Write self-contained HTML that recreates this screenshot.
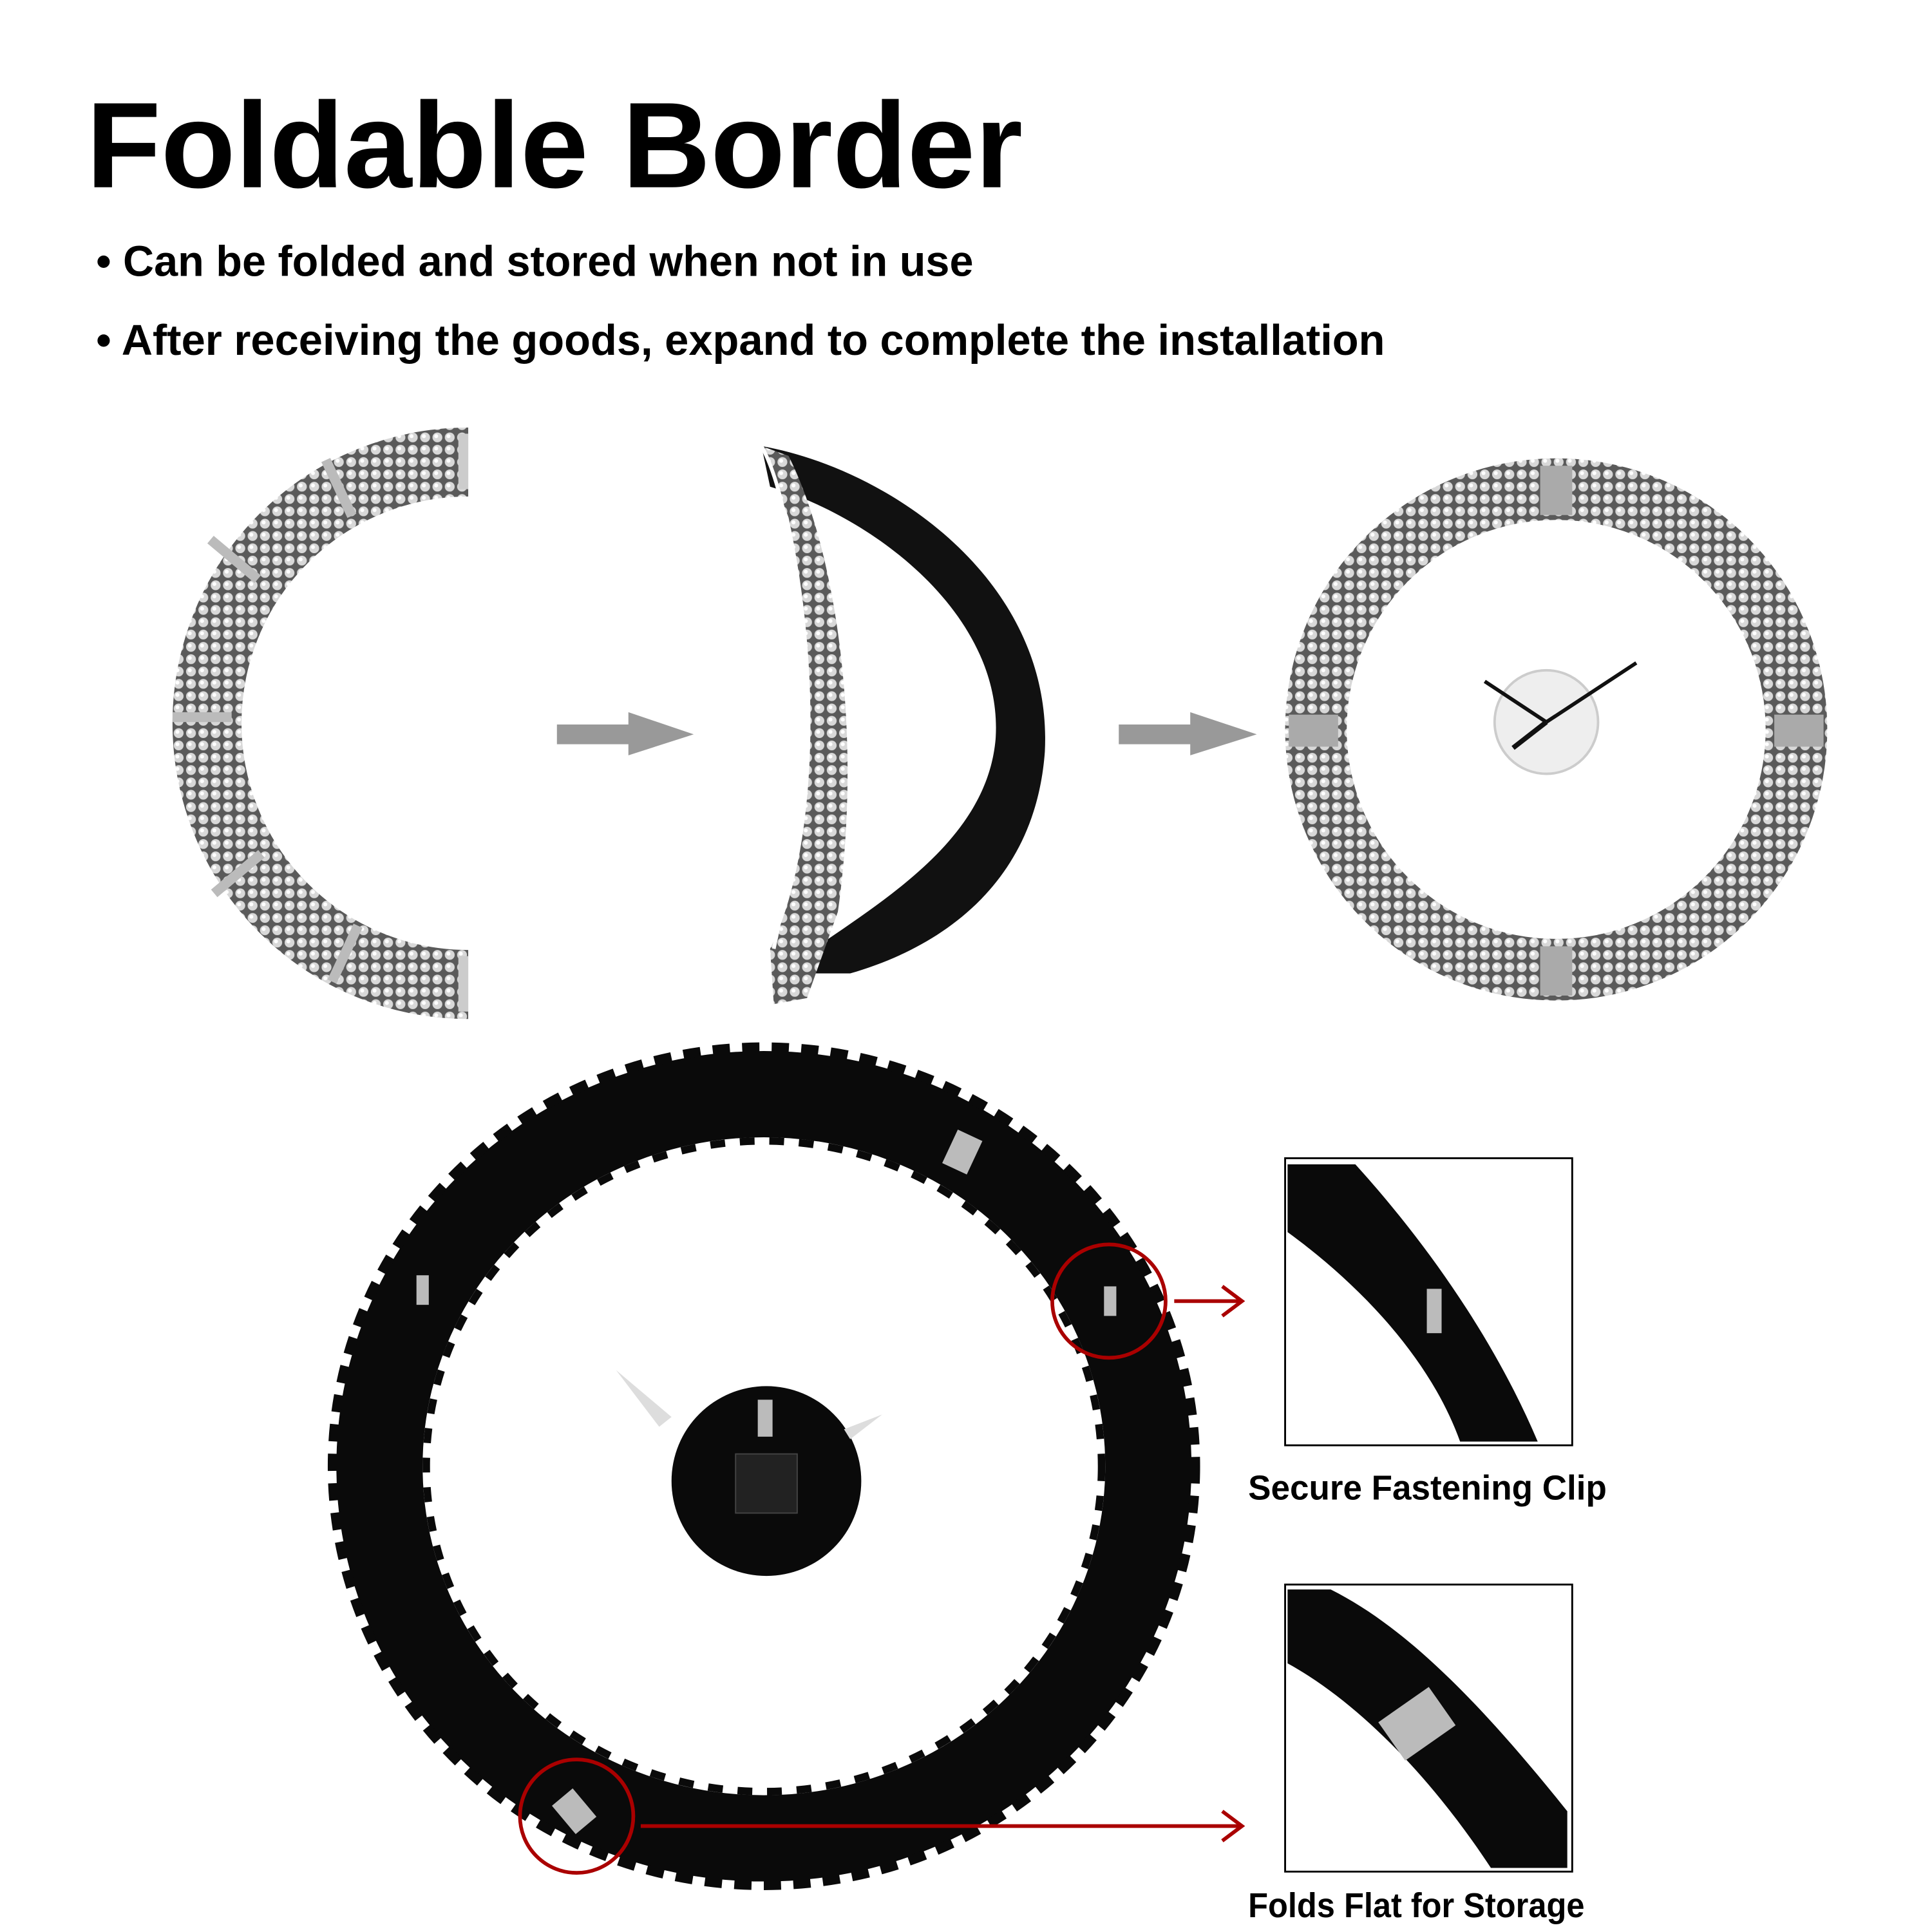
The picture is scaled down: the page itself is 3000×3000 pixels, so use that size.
<!DOCTYPE html>
<html><head><meta charset="utf-8"><style>
html,body{margin:0;padding:0;background:#fff;}
svg{display:block;}
</style></head><body>
<svg width="3000" height="3000" viewBox="0 0 1568 1568" xmlns="http://www.w3.org/2000/svg">
<defs>
<pattern id="gems" width="10" height="10" patternUnits="userSpaceOnUse">
<rect width="10" height="10" fill="#5a5a5a"/>
<circle cx="5" cy="5" r="4" fill="#d8d8d8"/>
<circle cx="4" cy="4" r="1.6" fill="#fff"/>
</pattern>
<clipPath id="leftHalf"><rect x="0" y="340" width="380" height="500"/></clipPath>
</defs>
<text x="70" y="152" font-family="Liberation Sans, sans-serif" font-weight="bold" font-size="99" fill="#000" textLength="760" lengthAdjust="spacingAndGlyphs">Foldable Border</text>
<text x="78" y="224" font-family="Liberation Sans, sans-serif" font-weight="bold" font-size="35" fill="#000" textLength="712" lengthAdjust="spacingAndGlyphs">• Can be folded and stored when not in use</text>
<text x="78" y="288" font-family="Liberation Sans, sans-serif" font-weight="bold" font-size="35" fill="#000" textLength="1046" lengthAdjust="spacingAndGlyphs">• After receiving the goods, expand to complete the installation</text>

<g clip-path="url(#leftHalf)">
<circle cx="380" cy="587" r="212" fill="none" stroke="url(#gems)" stroke-width="56"/>
</g>
<rect x="372" y="352" width="8" height="45" fill="#ccc"/>
<rect x="372" y="776" width="8" height="45" fill="#ccc"/>
<g fill="#bbb">
<rect x="140" y="578" width="48" height="8"/>
<rect x="165" y="450" width="50" height="8" transform="rotate(40 190 454)"/>
<rect x="168" y="705" width="50" height="8" transform="rotate(-40 193 709)"/>
<rect x="250" y="392" width="50" height="8" transform="rotate(65 275 396)"/>
<rect x="255" y="770" width="50" height="8" transform="rotate(-65 280 774)"/>
</g>

<polygon points="452,588 510,588 510,578 563,596 510,613 510,604 452,604" fill="#999"/>
<polygon points="908,588 966,588 966,578 1020,596 966,613 966,604 908,604" fill="#999"/>

<path d="M618,362 C720,380 855,470 848,610 C840,720 760,770 690,790 L632,790 C700,740 800,690 808,600 C815,500 710,420 625,395 Z" fill="#111"/>
<path d="M618,362 L640,370 C680,450 700,600 680,740 L655,810 L628,815 L625,770 C660,700 670,560 640,420 Z" fill="url(#gems)"/>
<path d="M618,362 C650,420 665,600 628,770" fill="none" stroke="#fff" stroke-width="3"/>

<circle cx="1263" cy="592" r="195" fill="none" stroke="url(#gems)" stroke-width="50"/>
<g fill="#aaa">
<rect x="1250" y="378" width="26" height="40"/>
<rect x="1250" y="768" width="26" height="40"/>
<rect x="1046" y="580" width="40" height="26"/>
<rect x="1440" y="580" width="40" height="26"/>
</g>
<circle cx="1255" cy="586" r="42" fill="#eee" stroke="#ccc" stroke-width="2"/>
<line x1="1255" y1="586" x2="1328" y2="538" stroke="#111" stroke-width="3"/>
<line x1="1255" y1="586" x2="1205" y2="553" stroke="#111" stroke-width="3"/>
<line x1="1255" y1="586" x2="1228" y2="607" stroke="#111" stroke-width="4"/>

<ellipse cx="620" cy="1190" rx="312" ry="302" fill="none" stroke="#0a0a0a" stroke-width="70"/>
<ellipse cx="620" cy="1190" rx="350" ry="340" fill="none" stroke="#0a0a0a" stroke-width="8" stroke-dasharray="14 10"/>
<ellipse cx="620" cy="1190" rx="274" ry="264" fill="none" stroke="#0a0a0a" stroke-width="6" stroke-dasharray="12 12"/>
<g fill="#bbb">
<rect x="770" y="920" width="22" height="30" transform="rotate(25 781 935)"/>
<rect x="896" y="1044" width="10" height="24"/>
<rect x="338" y="1035" width="10" height="24"/>
<rect x="455" y="1455" width="22" height="30" transform="rotate(-40 466 1470)"/>
</g>
<circle cx="622" cy="1202" r="77" fill="#0a0a0a"/>
<rect x="597" y="1180" width="50" height="48" fill="#222" stroke="#444"/>
<rect x="615" y="1136" width="12" height="30" fill="#bbb"/>
<polygon points="500,1112 545,1150 535,1158" fill="#ddd"/>
<polygon points="716,1148 690,1168 685,1160" fill="#ddd"/>

<circle cx="900" cy="1056" r="46" fill="none" stroke="#a00" stroke-width="3"/>
<circle cx="468" cy="1474" r="46" fill="none" stroke="#a00" stroke-width="3"/>
<line x1="953" y1="1056" x2="1008" y2="1056" stroke="#a00" stroke-width="3"/>
<polyline points="992,1044 1008,1056 992,1068" fill="none" stroke="#a00" stroke-width="3"/>
<line x1="520" y1="1482" x2="1008" y2="1482" stroke="#a00" stroke-width="3"/>
<polyline points="992,1470 1008,1482 992,1494" fill="none" stroke="#a00" stroke-width="3"/>

<rect x="1043" y="940" width="233" height="233" fill="#fff" stroke="#000" stroke-width="1.5"/>
<path d="M1045,945 L1100,945 C1150,1000 1210,1080 1248,1170 L1185,1170 C1160,1100 1100,1040 1045,1000 Z" fill="#0a0a0a"/>
<rect x="1158" y="1046" width="12" height="36" fill="#bbb"/>
<rect x="1043" y="1286" width="233" height="233" fill="#fff" stroke="#000" stroke-width="1.5"/>
<path d="M1045,1290 L1080,1290 C1140,1320 1200,1380 1272,1470 L1272,1516 L1210,1516 C1160,1440 1100,1380 1045,1350 Z" fill="#0a0a0a"/>
<rect x="1125" y="1380" width="50" height="38" fill="#bbb" transform="rotate(-35 1150 1399)"/>

<text x="1013" y="1217" font-family="Liberation Sans, sans-serif" font-weight="bold" font-size="28" fill="#000" textLength="291" lengthAdjust="spacingAndGlyphs">Secure Fastening Clip</text>
<text x="1013" y="1556" font-family="Liberation Sans, sans-serif" font-weight="bold" font-size="28" fill="#000" textLength="273" lengthAdjust="spacingAndGlyphs">Folds Flat for Storage</text>
</svg>
</body></html>
